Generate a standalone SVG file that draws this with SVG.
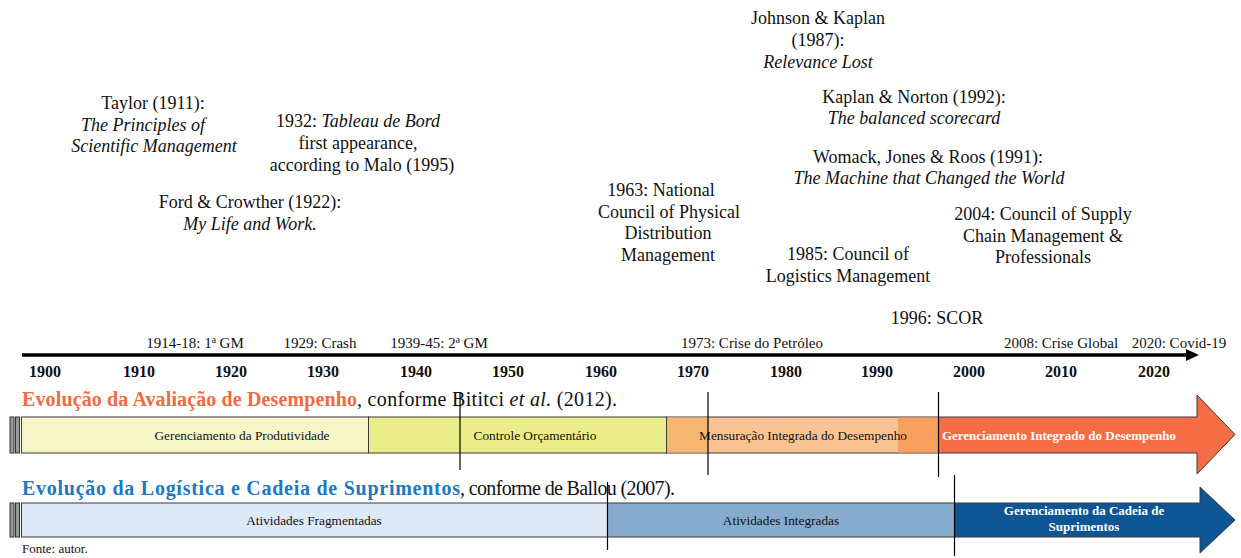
<svg xmlns="http://www.w3.org/2000/svg" width="1241" height="558" viewBox="0 0 1241 558">
  <style>
    text { font-family: "Liberation Serif", "Times New Roman", serif; fill: #111; }
    .note { font-size: 18px; text-anchor: middle; }
    .it { font-style: italic; }
    .ev { font-size: 15px; text-anchor: middle; }
    .yr { font-size: 16px; font-weight: bold; text-anchor: middle; }
    .ttl { font-size: 20px; }
    .seg { font-size: 13.3px; text-anchor: middle; }
    .segw { font-size: 13px; font-weight: bold; text-anchor: middle; fill: #fff; }
    .bar { stroke: #3a3a3a; stroke-width: 1; }
    .cap { fill: #9a9a9a; stroke: #333; stroke-width: 1; }
    .mark { stroke: #000; stroke-width: 1.2; fill: none; }
  </style>

  <!-- annotations above the time axis -->
  <g id="johnson-kaplan">
    <text class="note" x="818" y="24">Johnson &amp; Kaplan</text>
    <text class="note" x="818" y="46">(1987):</text>
    <text class="note it" x="818" y="68">Relevance Lost</text>
  </g>
  <g id="taylor">
    <text class="note" x="153" y="109">Taylor (1911):</text>
    <text class="note it" x="143" y="131">The Principles of</text>
    <text class="note it" x="154" y="152">Scientific Management</text>
  </g>
  <g id="tableau-de-bord">
    <text class="note" x="358" y="127">1932: <tspan class="it">Tableau de Bord</tspan></text>
    <text class="note" x="358" y="149">first appearance,</text>
    <text class="note" x="362" y="171">according to Malo (1995)</text>
  </g>
  <g id="kaplan-norton">
    <text class="note" x="914" y="103">Kaplan &amp; Norton (1992):</text>
    <text class="note it" x="914" y="124">The balanced scorecard</text>
  </g>
  <g id="womack">
    <text class="note" x="928" y="163">Womack, Jones &amp; Roos (1991):</text>
    <text class="note it" x="929" y="184">The Machine that Changed the World</text>
  </g>
  <g id="ford-crowther">
    <text class="note" x="250" y="208">Ford &amp; Crowther (1922):</text>
    <text class="note it" x="250" y="230">My Life and Work.</text>
  </g>
  <g id="ncpdm-1963">
    <text class="note" x="661" y="196">1963: National</text>
    <text class="note" x="669" y="218">Council of Physical</text>
    <text class="note" x="668" y="239">Distribution</text>
    <text class="note" x="668" y="261">Management</text>
  </g>
  <g id="cscmp-2004">
    <text class="note" x="1043" y="220">2004: Council of Supply</text>
    <text class="note" x="1043" y="242">Chain Management &amp;</text>
    <text class="note" x="1043" y="263">Professionals</text>
  </g>
  <g id="clm-1985">
    <text class="note" x="848" y="260">1985: Council of</text>
    <text class="note" x="848" y="282">Logistics Management</text>
  </g>
  <g id="scor-1996">
    <text class="note" x="937" y="324">1996: SCOR</text>
  </g>

  <!-- time axis -->
  <g id="axis">
    <line x1="22" y1="355" x2="1188" y2="355" stroke="#000" stroke-width="3.5"/>
    <polygon points="1186,349 1199,355 1186,361" fill="#000"/>
    <text class="ev" x="195" y="348">1914-18: 1ª GM</text>
    <text class="ev" x="320" y="348">1929: Crash</text>
    <text class="ev" x="439" y="348">1939-45: 2ª GM</text>
    <text class="ev" x="752" y="348">1973: Crise do Petróleo</text>
    <text class="ev" x="1061" y="348">2008: Crise Global</text>
    <text class="ev" x="1179" y="348">2020: Covid-19</text>
    <text class="yr" x="45" y="377">1900</text>
    <text class="yr" x="139" y="377">1910</text>
    <text class="yr" x="231" y="377">1920</text>
    <text class="yr" x="323" y="377">1930</text>
    <text class="yr" x="416" y="377">1940</text>
    <text class="yr" x="508" y="377">1950</text>
    <text class="yr" x="601" y="377">1960</text>
    <text class="yr" x="693" y="377">1970</text>
    <text class="yr" x="786" y="377">1980</text>
    <text class="yr" x="877" y="377">1990</text>
    <text class="yr" x="969" y="377">2000</text>
    <text class="yr" x="1061" y="377">2010</text>
    <text class="yr" x="1154" y="377">2020</text>
  </g>

  <!-- performance measurement band -->
  <g id="performance-band">
    <text class="ttl" x="22" y="406" textLength="335" font-weight="bold" style="fill:#F06A45">Evolução da Avaliação de Desempenho</text>
    <text class="ttl" x="357" y="406" textLength="260">, conforme Bititci <tspan class="it">et al.</tspan> (2012).</text>
    <rect class="cap" x="10" y="417" width="4" height="36"/>
    <rect class="cap" x="15.5" y="417" width="4" height="36"/>
    <rect class="bar" x="21.5" y="417" width="347" height="36" fill="#F6F6C8"/>
    <text class="seg" x="242" y="440">Gerenciamento da Produtividade</text>
    <rect class="bar" x="368.5" y="417" width="298" height="36" fill="#EBEE88"/>
    <text class="seg" x="535" y="440">Controle Orçamentário</text>
    <rect class="bar" x="666.5" y="417" width="272" height="36" fill="#FAC393"/>
    <rect x="667" y="417.5" width="41" height="35" fill="#F6B772"/>
    <rect x="898" y="417.5" width="40" height="35" fill="#F9A05E"/>
    <text class="seg" x="803" y="440">Mensuração Integrada do Desempenho</text>
    <polygon class="bar" points="938.5,417 1197,417 1197,395 1235,434.5 1197,474 1197,453 938.5,453" fill="#F46D45"/>
    <text class="segw" x="1059" y="440">Gerenciamento Integrado do Desempenho</text>
  </g>

  <!-- logistics / supply chain band -->
  <g id="logistics-band">
    <text class="ttl" x="22" y="495" textLength="438" font-weight="bold" style="fill:#2177C2">Evolução da Logística e Cadeia de Suprimentos</text>
    <text class="ttl" x="460" y="495" textLength="215">, conforme de Ballou (2007).</text>
    <rect class="cap" x="10" y="503" width="4" height="34"/>
    <rect class="cap" x="15.5" y="503" width="4" height="34"/>
    <rect class="bar" x="21.5" y="503" width="586" height="34" fill="#DDE9F6"/>
    <text class="seg" x="314" y="525">Atividades Fragmentadas</text>
    <rect class="bar" x="607.5" y="503" width="347" height="34" fill="#87ABCC"/>
    <text class="seg" x="781" y="525">Atividades Integradas</text>
    <polygon class="bar" points="954.5,503 1200,503 1200,487 1235,520 1200,553 1200,537 954.5,537" fill="#0D5593"/>
    <text class="segw" x="1084" y="515">Gerenciamento da Cadeia de</text>
    <text class="segw" x="1084" y="531">Suprimentos</text>
  </g>

  <!-- event marker lines crossing the bands -->
  <g id="connectors">
    <line class="mark" x1="460" y1="392" x2="460" y2="470"/>
    <line class="mark" x1="708" y1="392" x2="708" y2="475"/>
    <line class="mark" x1="938.5" y1="392" x2="938.5" y2="477"/>
    <line class="mark" x1="607.5" y1="482" x2="607.5" y2="550"/>
    <line class="mark" x1="954.5" y1="475" x2="954.5" y2="556"/>
  </g>

  <text x="22" y="553" font-size="13">Fonte: autor.</text>
</svg>
